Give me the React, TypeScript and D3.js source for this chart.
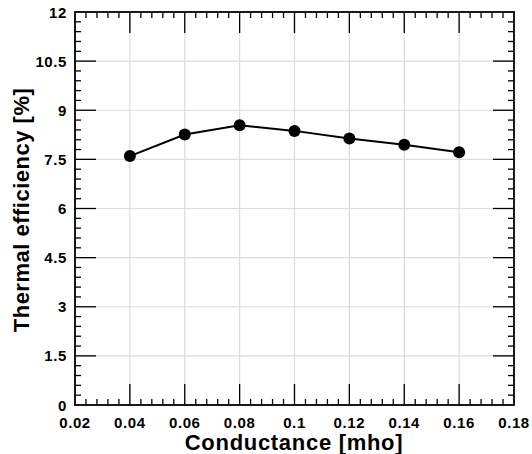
import React from "react";
import * as d3 from "d3";

const conductance = [0.04, 0.06, 0.08, 0.1, 0.12, 0.14, 0.16];
const efficiency = [7.6, 8.26, 8.54, 8.37, 8.14, 7.95, 7.72];
const xTicks = [0.02, 0.04, 0.06, 0.08, 0.1, 0.12, 0.14, 0.16, 0.18];
const yTicks = [0, 1.5, 3, 4.5, 6, 7.5, 9, 10.5, 12];
const xTickLabels = ["0.02", "0.04", "0.06", "0.08", "0.1", "0.12", "0.14", "0.16", "0.18"];
const yTickLabels = ["0", "1.5", "3", "4.5", "6", "7.5", "9", "10.5", "12"];

export default function App() {
  const W = 532, H = 454;
  const L = 75, R = 514, T = 12, B = 405;
  const x = d3.scaleLinear().domain([0.02, 0.18]).range([L, R]);
  const y = d3.scaleLinear().domain([0, 12]).range([B, T]);
  const font = "'Liberation Sans', Arial, sans-serif";
  const xMinor: number[] = [];
  for (let i = 0; i < xTicks.length - 1; i++)
    for (let k = 1; k < 5; k++) xMinor.push(xTicks[i] + (k * (xTicks[i + 1] - xTicks[i])) / 5);
  const yMinor: number[] = [];
  for (let i = 0; i < yTicks.length - 1; i++)
    for (let k = 1; k < 5; k++) yMinor.push(yTicks[i] + (k * (yTicks[i + 1] - yTicks[i])) / 5);
  const line = d3
    .line<number>()
    .x((_, i) => x(conductance[i]))
    .y((d) => y(d));
  const major = 21, minor = 6;
  return (
    <svg width={W} height={H} style={{ position: "absolute", left: 0, top: 0 }}>
      <rect width={W} height={H} fill="#fff" />
      {xTicks.slice(1, -1).map((t) => (
        <line key={"gx" + t} x1={x(t)} x2={x(t)} y1={T} y2={B} stroke="#dcdcdc" strokeWidth={1.2} />
      ))}
      {yTicks.slice(1, -1).map((t) => (
        <line key={"gy" + t} x1={L} x2={R} y1={y(t)} y2={y(t)} stroke="#dcdcdc" strokeWidth={1.2} />
      ))}
      {xTicks.slice(1, -1).map((t) => (
        <g key={"mx" + t} stroke="#000" strokeWidth={1.3}>
          <line x1={x(t)} x2={x(t)} y1={B} y2={B - major} />
          <line x1={x(t)} x2={x(t)} y1={T} y2={T + major} />
        </g>
      ))}
      {xMinor.map((t, i) => (
        <g key={"nx" + i} stroke="#000" strokeWidth={1.3}>
          <line x1={x(t)} x2={x(t)} y1={B} y2={B - minor} />
          <line x1={x(t)} x2={x(t)} y1={T} y2={T + minor} />
        </g>
      ))}
      {yTicks.slice(1, -1).map((t) => (
        <g key={"my" + t} stroke="#000" strokeWidth={1.3}>
          <line x1={L} x2={L + major} y1={y(t)} y2={y(t)} />
          <line x1={R} x2={R - major} y1={y(t)} y2={y(t)} />
        </g>
      ))}
      {yMinor.map((t, i) => (
        <g key={"ny" + i} stroke="#000" strokeWidth={1.3}>
          <line x1={L} x2={L + minor} y1={y(t)} y2={y(t)} />
          <line x1={R} x2={R - minor} y1={y(t)} y2={y(t)} />
        </g>
      ))}
      <rect x={L} y={T} width={R - L} height={B - T} fill="none" stroke="#000" strokeWidth={1.8} />
      <path d={line(efficiency) || ""} fill="none" stroke="#000" strokeWidth={2} />
      {efficiency.map((v, i) => (
        <circle key={"p" + i} cx={x(conductance[i])} cy={y(v)} r={6} fill="#000" />
      ))}
      {xTicks.map((t, i) => (
        <text key={"lx" + t} x={x(t)} y={428} textAnchor="middle" fontFamily={font} fontWeight="bold" fontSize={15} letterSpacing={0.6}>
          {xTickLabels[i]}
        </text>
      ))}
      {yTicks.map((t, i) => (
        <text key={"ly" + t} x={L - 8} y={y(t) + 5.5} textAnchor="end" fontFamily={font} fontWeight="bold" fontSize={15} letterSpacing={0.6}>
          {yTickLabels[i]}
        </text>
      ))}
      <text x={294} y={450} textAnchor="middle" fontFamily={font} fontWeight="bold" fontSize={22} letterSpacing={0.7}>
        Conductance [mho]
      </text>
      <text
        transform={`translate(29,210) rotate(-90)`}
        textAnchor="middle"
        fontFamily={font}
        fontWeight="bold"
        fontSize={22}
        letterSpacing={0.5}
      >
        Thermal efficiency [%]
      </text>
    </svg>
  );
}
